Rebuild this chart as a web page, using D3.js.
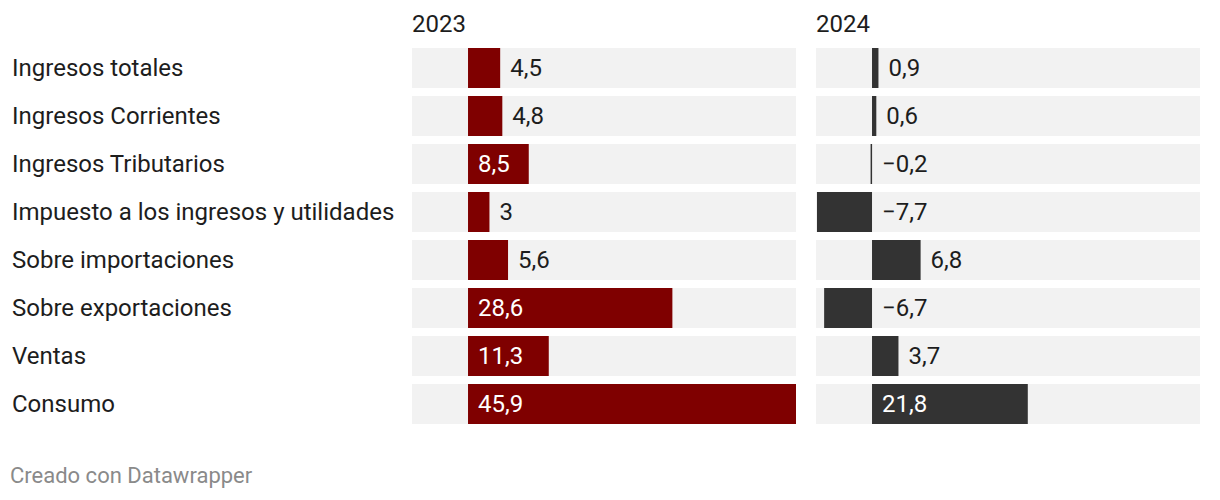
<!DOCTYPE html>
<html><head><meta charset="utf-8">
<script src="https://cdn.jsdelivr.net/npm/d3@7"></script>
<style>
body{margin:0;background:#fff;font-family:Roboto,sans-serif;}
</style></head>
<body><svg id="c" width="1220" height="500"></svg>
<script>
const categories = ["Ingresos totales","Ingresos Corrientes","Ingresos Tributarios","Impuesto a los ingresos y utilidades","Sobre importaciones","Sobre exportaciones","Ventas","Consumo"];
const values2023 = [4.5,4.8,8.5,3,5.6,28.6,11.3,45.9];
const values2024 = [0.9,0.6,-0.2,-7.7,6.8,-6.7,3.7,21.8];
const seriesNames = ["2023","2024"];
const seriesColors = ["#7f0000","#333333"];

const svg = d3.select("#c");
const fmt = v => (v<0?"\u2212":"") + String(Math.abs(v)).replace(".", ",");
const allVals = values2023.concat(values2024);
const domain = [Math.min(0,d3.min(allVals)) - 0.14, d3.max(allVals)];
const y = d3.scaleBand().domain(categories).range([44,428]).paddingInner(0.1667).paddingOuter(0.0833);
const panels = [{x0:412,x1:796,vals:values2023},{x0:816,x1:1200,vals:values2024}];
const fs = 24;

svg.selectAll("text.cat").data(categories).join("text")
  .attr("x",12).attr("y",d=>y(d)+y.bandwidth()/2).attr("dy","0.35em")
  .attr("font-size",fs).attr("fill","#1d1d1d").text(d=>d);

panels.forEach((p,i)=>{
  const x = d3.scaleLinear().domain(domain).range([p.x0,p.x1]);
  const g = svg.append("g");
  g.append("text").attr("x",p.x0).attr("y",32).attr("font-size",fs).attr("fill","#1d1d1d").text(seriesNames[i]);
  g.selectAll("rect.bg").data(categories).join("rect")
    .attr("x",p.x0).attr("width",p.x1-p.x0).attr("y",d=>y(d)).attr("height",y.bandwidth()).attr("fill","#f2f2f2");
  const data = categories.map((c,j)=>({c,v:p.vals[j]}));
  g.selectAll("rect.bar").data(data).join("rect")
    .attr("x",d=>x(Math.min(0,d.v))).attr("width",d=>Math.max(1.5,Math.abs(x(d.v)-x(0))))
    .attr("y",d=>y(d.c)).attr("height",y.bandwidth()).attr("fill",seriesColors[i]);
  g.selectAll("text.val").data(data).join("text")
    .attr("y",d=>y(d.c)+y.bandwidth()/2).attr("dy","0.35em").attr("font-size",fs)
    .each(function(d){
      const w = x(d.v)-x(0);
      const t = d3.select(this).text(fmt(d.v));
      if (d.v>0 && w>=55){ t.attr("x",x(0)+10).attr("fill","#fff"); }
      else if (d.v>0){ t.attr("x",x(d.v)+10).attr("fill","#1d1d1d"); }
      else { t.attr("x",x(0)+10).attr("fill","#1d1d1d"); }
    });
});

svg.append("text").attr("x",10).attr("y",483).attr("font-size",22).attr("fill","#8a8a8a").text("Creado con Datawrapper");
</script></body></html>
